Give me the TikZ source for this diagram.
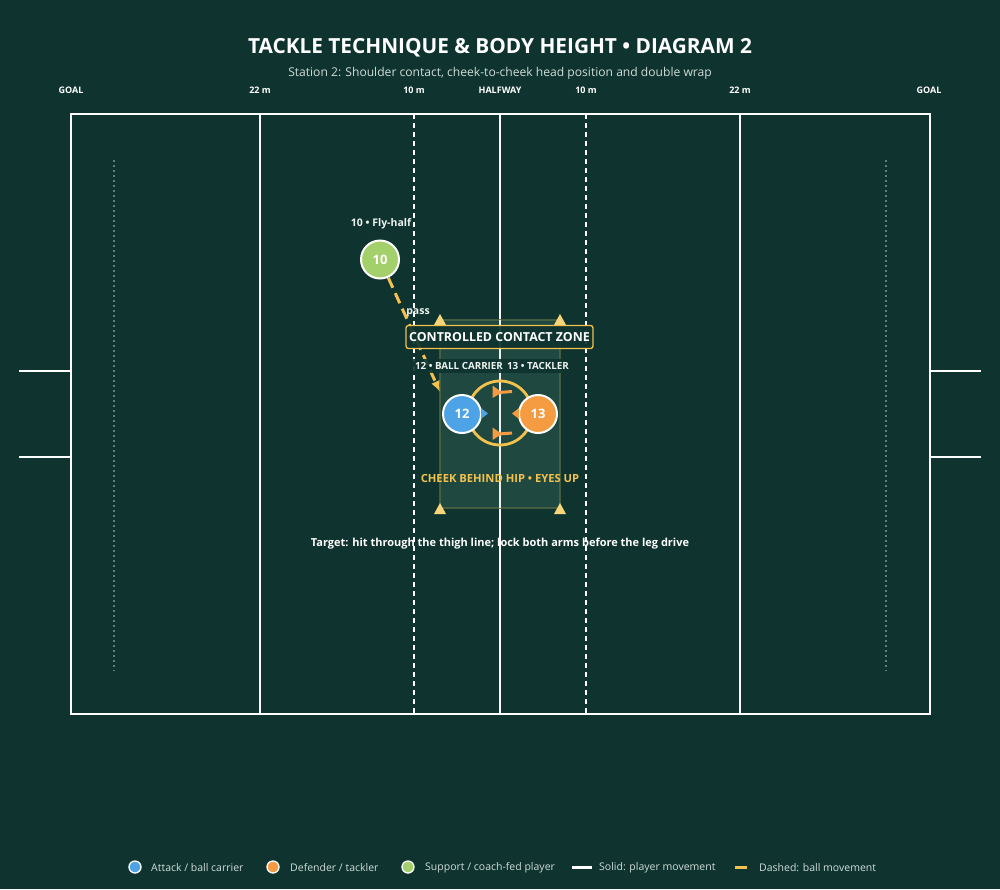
\documentclass[tikz,border=0pt]{standalone}
\usepackage{fontspec}
\setmainfont{Open Sans}
\usetikzlibrary{arrows.meta}
\definecolor{bg}{HTML}{0F342F}
\definecolor{zonefill}{HTML}{214C44}
\definecolor{zoneedge}{HTML}{4F6544}
\definecolor{ylw}{HTML}{F2C14E}
\definecolor{cone}{HTML}{F7D57A}
\definecolor{atk}{HTML}{4DA3E6}
\definecolor{dfn}{HTML}{F59C42}
\definecolor{sup}{HTML}{A3D06A}
\definecolor{txt}{HTML}{EEF3F0}
\definecolor{subtxt}{HTML}{D0DCD8}
\definecolor{dotc}{HTML}{5A837B}
\tikzset{
  fieldline/.style={draw=white, line width=1.5pt},
  tenline/.style={draw=white, line width=1.3pt, dash pattern=on 5pt off 4pt},
  fieldlbl/.style={text=white, font=\fontsize{9}{10}\selectfont\bfseries, inner sep=0pt},
  player/.style={circle, draw=white, line width=2pt, minimum size=38pt, inner sep=0pt, text=white, font=\fontsize{13}{14}\selectfont\bfseries},
  conetri/.style={fill=cone},
  lbl/.style={text=txt, font=\fontsize{9.8}{11}\selectfont\bfseries, inner sep=0pt},
  legtxt/.style={text=subtxt, font=\fontsize{10.5}{12}\selectfont, anchor=west, inner sep=0pt},
  legdot/.style={circle, draw=white, line width=1.3pt, minimum size=12pt, inner sep=0pt},
  passline/.style={draw=ylw, line width=3pt, dash pattern=on 11pt off 6pt, -{Latex[length=11pt,width=9pt]}},
}
\begin{document}
\begin{tikzpicture}[x=1pt,y=-1pt]
\fill[bg] (0,0) rectangle (1000,889);
\useasboundingbox (0,0) rectangle (1000,889);
% title
\node[text=white, font=\fontsize{20.8}{24}\selectfont\bfseries] (title) at (500,47.5) {TACKLE TECHNIQUE \& BODY HEIGHT • DIAGRAM 2};
\node[text=subtxt, font=\fontsize{12.1}{14}\selectfont] (subtitle) at (500,73) {Station 2: Shoulder contact, cheek-to-cheek head position and double wrap};
% field labels
\node[fieldlbl] (lg1) at (71,90) {GOAL};
\node[fieldlbl] (l22a) at (260,90) {22 m};
\node[fieldlbl] (l10a) at (414,90) {10 m};
\node[fieldlbl] (lhw) at (500,90) {HALFWAY};
\node[fieldlbl] (l10b) at (586,90) {10 m};
\node[fieldlbl] (l22b) at (740,90) {22 m};
\node[fieldlbl] (lg2) at (929,90) {GOAL};
% posts
\draw[draw=white, line width=1.8pt] (19,371) -- (71,371) (19,457) -- (71,457);
\draw[draw=white, line width=1.8pt] (930,371) -- (981,371) (930,457) -- (981,457);
% dotted 5m lines
\draw[dotc, line width=1.2pt, dash pattern=on 1.5pt off 3.5pt] (114,160) -- (114,671);
\draw[dotc, line width=1.2pt, dash pattern=on 1.5pt off 3.5pt] (886,160) -- (886,671);
% field lines
\draw[fieldline] (260,114) -- (260,714);
\draw[fieldline] (500,114) -- (500,714);
\draw[fieldline] (740,114) -- (740,714);
\draw[tenline] (414,114) -- (414,714);
\draw[tenline] (586,114) -- (586,714);
\draw[draw=white, line width=2.5pt] (71,114) rectangle (930,714);
% zone
\fill[zonefill, fill opacity=0.85] (440,320) rectangle (560,508);
\draw[zoneedge, line width=2.5pt, opacity=0.8] (440,320) rectangle (560,508);
\draw[fieldline, opacity=0.9] (500,320) -- (500,508);
% cones
\foreach \cx/\cy in {440/320, 560/320, 440/509, 560/509}
  \fill[conetri] (\cx-6,\cy+5) -- (\cx+6,\cy+5) -- (\cx,\cy-6) -- cycle;
% pass
\node[player, fill=sup] (p10) at (380,259.5) {10};
\coordinate (pend) at (440,392);
\draw[passline] (p10) -- (pend);
\node[text=txt, font=\fontsize{10.5}{12}\selectfont\bfseries, inner sep=0pt] (l10) at (381,223.5) {10 • Fly-half};
\node[text=txt, font=\fontsize{10.5}{12}\selectfont\bfseries, inner sep=0pt] (lpass) at (418,312.5) {pass};
% zone title
\node[draw=ylw, line width=1.3pt, rounded corners=2.5pt, fill=bg, fill opacity=0.92, text opacity=1, text=white, font=\fontsize{12.4}{14}\selectfont\bfseries, minimum width=187pt, minimum height=23pt, inner sep=1pt] (zt) at (499.5,337) {CONTROLLED CONTACT ZONE};
% role labels
\node[lbl, fill=bg, fill opacity=0.9, text opacity=1, inner xsep=2pt, inner ysep=3pt] (r12) at (459,366) {12 • BALL CARRIER};
\node[lbl, fill=bg, fill opacity=0.9, text opacity=1, inner xsep=2pt, inner ysep=3pt] (r13) at (538,366) {13 • TACKLER};
% ring
\draw[ylw, line width=2.8pt] (500,413) circle[radius=32];
% wrap arrows
\fill[dfn] (492.5,385.5) -- (492.5,398) -- (502,392.5) -- cycle;
\draw[dfn, line width=3pt] (499,392.5) -- (512,391.5);
\fill[dfn] (492.5,427.5) -- (492.5,440) -- (502,434) -- cycle;
\draw[dfn, line width=3pt] (499,434) -- (512,433);
% players
\node[player, fill=atk] (p12) at (462,414) {12};
\node[player, fill=dfn] (p13) at (538,414) {13};
\fill[atk] (481,408) -- (481,419) -- (488,413.5) -- cycle;
\fill[dfn] (519,408) -- (519,419) -- (512,413.5) -- cycle;
% cue texts
\node[text=ylw, font=\fontsize{11.2}{13}\selectfont\bfseries, inner sep=0pt] (cue) at (500,478) {CHEEK BEHIND HIP • EYES UP};
\node[text=white, font=\fontsize{11}{12}\selectfont\bfseries, inner sep=0pt] (target) at (500,543.5) {Target: hit through the thigh line; lock both arms before the leg drive};
% legend
\node[legdot, fill=atk] (d1) at (135,867) {};
\node[legtxt] (t1) at (151,868) {Attack / ball carrier};
\node[legdot, fill=dfn] (d2) at (273,867) {};
\node[legtxt] (t2) at (290,868) {Defender / tackler};
\node[legdot, fill=sup] (d3) at (408,867) {};
\node[legtxt] (t3) at (425,868) {Support / coach-fed player};
\coordinate (s1) at (572,867);
\coordinate (s2) at (592,867);
\draw[white, line width=3pt] (s1) -- (s2);
\node[legtxt] (t4) at (599,868) {Solid: player movement};
\coordinate (y1) at (735,867);
\coordinate (y2) at (747,867);
\draw[ylw, line width=3pt] (y1) -- (y2);
\node[legtxt] (t5) at (759,868) {Dashed: ball movement};
\end{tikzpicture}
\end{document}
